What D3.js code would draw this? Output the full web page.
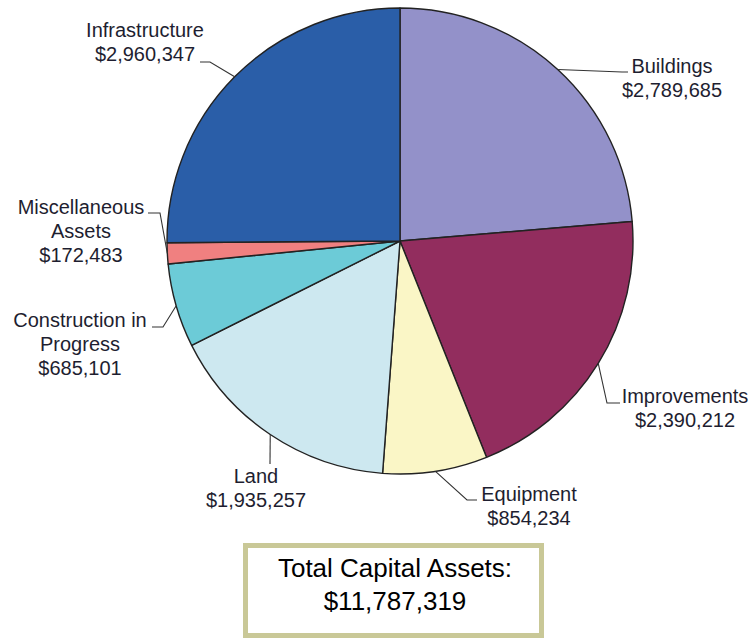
<!DOCTYPE html>
<html>
<head>
<meta charset="utf-8">
<script src="https://cdn.jsdelivr.net/npm/d3@7"></script>
<style>
  html, body { margin: 0; padding: 0; background: #ffffff; }
  svg { display: block; }
  text { font-family: "Liberation Sans", Arial, sans-serif; }
</style>
</head>
<body>
<svg id="chart" width="751" height="639"></svg>
<script>
// Capital asset categories, clockwise from 12 o'clock
const categories = ["Buildings", "Improvements", "Equipment", "Land",
                    "Construction in Progress", "Miscellaneous Assets", "Infrastructure"];
const values = [2789685, 2390212, 854234, 1935257, 685101, 172483, 2960347];
const colors = ["#9391c9", "#922d5e", "#faf6c6", "#cde8f0", "#6ccbd7", "#f08080", "#2a5ea8"];
// Label text lines (name lines, value line appended below)
const labelLines = [
  ["Buildings"],
  ["Improvements"],
  ["Equipment"],
  ["Land"],
  ["Construction in", "Progress"],
  ["Miscellaneous", "Assets"],
  ["Infrastructure"]
];
const totalTitle = "Total Capital Assets:";

// Layout for label blocks: text centre x, first baseline y, leader elbow and tail
const labelLayout = [
  { cx: 672, y: 73,  elbow: [622, 72],  tail: [628, 72] },
  { cx: 685, y: 403, elbow: [607, 403], tail: [620, 403] },
  { cx: 529, y: 501, elbow: [467, 500], tail: [477, 500] },
  { cx: 256, y: 483, elbow: [270, 464], tail: [270, 464] },
  { cx: 80,  y: 327, elbow: [163, 327], tail: [152, 327] },
  { cx: 81,  y: 214, elbow: [160, 213], tail: [148, 213] },
  { cx: 145, y: 37,  elbow: [210, 62],  tail: [200, 62] }
];

const svg = d3.select("#chart");
const cx = 400, cy = 241, r = 233;
const fmt = d3.format("$,");

const pie = d3.pie().sort(null).value(d => d.value);
const arc = d3.arc().innerRadius(0).outerRadius(r);

const data = categories.map((c, i) => ({ name: c, value: values[i], color: colors[i], lines: labelLines[i], layout: labelLayout[i] }));
const arcs = pie(data);

const g = svg.append("g").attr("transform", `translate(${cx},${cy})`);
g.selectAll("path.slice")
  .data(arcs)
  .join("path")
  .attr("class", "slice")
  .attr("d", arc)
  .attr("fill", d => d.data.color)
  .attr("stroke", "#222")
  .attr("stroke-width", 1.4)
  .attr("stroke-linejoin", "round");

// Leader lines from the slice edge at its mid angle
svg.append("g").selectAll("polyline")
  .data(arcs)
  .join("polyline")
  .attr("points", d => {
    const a = (d.startAngle + d.endAngle) / 2;
    const p = [cx + r * Math.sin(a), cy - r * Math.cos(a)];
    const L = d.data.layout;
    return [p, L.elbow, L.tail].map(q => q.join(",")).join(" ");
  })
  .attr("fill", "none")
  .attr("stroke", "#333")
  .attr("stroke-width", 1.1);

// Labels
const lab = svg.append("g").selectAll("text.label")
  .data(arcs)
  .join("text")
  .attr("class", "label")
  .attr("text-anchor", "middle")
  .attr("font-size", 20)
  .attr("fill", "#1e1e30");
lab.each(function(d) {
  const t = d3.select(this);
  const L = d.data.layout;
  const lines = d.data.lines.concat([fmt(d.data.value)]);
  lines.forEach((s, i) => {
    t.append("tspan").attr("x", L.cx).attr("y", L.y + i * 24).text(s);
  });
});

// Total box
const total = d3.sum(values);
svg.append("rect")
  .attr("x", 245.5).attr("y", 545.5)
  .attr("width", 296).attr("height", 90)
  .attr("fill", "#ffffff")
  .attr("stroke", "#c9c897")
  .attr("stroke-width", 5);
const tt = svg.append("text")
  .attr("text-anchor", "middle")
  .attr("font-size", 26)
  .attr("fill", "#000");
tt.append("tspan").attr("x", 395).attr("y", 577).text(totalTitle);
tt.append("tspan").attr("x", 395).attr("y", 610).text(fmt(total));
</script>
</body>
</html>
